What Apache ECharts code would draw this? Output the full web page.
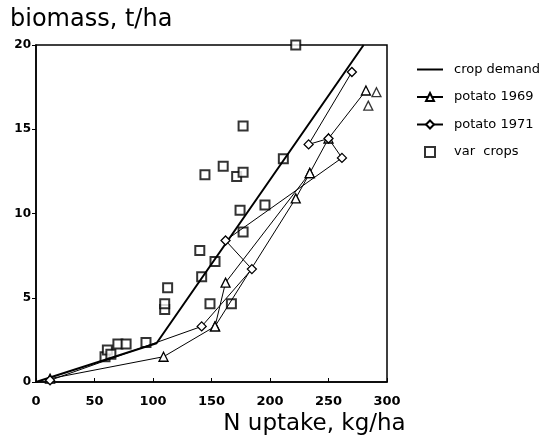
<!DOCTYPE html>
<html>
<head>
<meta charset="utf-8">
<script src="https://cdn.jsdelivr.net/npm/echarts@6/dist/echarts.min.js"></script>
<style>
  html, body { margin: 0; padding: 0; background: #fff; }
  #chart { width: 550px; height: 440px; }
</style>
</head>
<body>
<div id="chart"></div>
<script>
  // crop demand curve (N uptake, biomass)
  const cropDemand = [[0, 0], [103, 2.3], [280, 20]]
  // potato 1969 (triangles), main path + side path + loose points
  const potato1969 = [[12, 0.2], [109, 1.5], [153, 3.3], [162, 5.9], [234, 12.4], [250, 14.45], [282, 17.3]]
  const potato1969b = [[153, 3.3], [222, 10.9], [234, 12.4]]
  const potato1969c = [[291, 17.2], [284, 16.4]]
  // potato 1971 (diamonds)
  const potato1971 = [[12, 0.1], [141.6, 3.3], [184.5, 6.7], [162, 8.4], [261.5, 13.3], [250, 14.45], [233, 14.1], [270, 18.4]]
  // various crops (squares)
  const varCrops = [
    [59, 1.5], [61, 1.9], [64, 1.65], [70, 2.25], [77, 2.25], [94, 2.35],
    [110, 4.3], [110, 4.65], [112.5, 5.6], [140, 7.8], [141.6, 6.25], [144.4, 12.3],
    [148.7, 4.65], [153, 7.15], [160, 12.8], [167, 4.65], [171.5, 12.2], [174.4, 10.2],
    [177, 12.45], [177, 15.2], [177, 8.9], [195.7, 10.5], [211.4, 13.25], [222, 20]
  ]
  const xTicks = [0, 50, 100, 150, 200, 250, 300]
  const yTicks = [0, 5, 10, 15, 20]

  const font = 'DejaVu Sans, Arial, sans-serif'
  const triangle = 'triangle'
  const diamond = 'diamond'
  const square = 'path://M0,0 L10,0 L10,10 L0,10 Z'

  let mycharts = echarts.init(document.getElementById('chart'))
  mycharts.setOption({
    animation: false,
    title: {
      text: 'biomass, t/ha',
      left: 5,
      top: 3,
      textStyle: { fontFamily: font, fontSize: 24, fontWeight: 'normal', color: '#000' }
    },
    legend: {
      orient: 'vertical',
      left: 411,
      top: 58,
      itemWidth: 26,
      itemHeight: 10,
      itemGap: 14.5,
      data: [
        { name: 'crop demand', itemStyle: { opacity: 0 } },
        'potato 1969',
        'potato 1971',
        'var  crops'
      ],
      textStyle: { fontFamily: font, fontSize: 13, color: '#000', padding: [0, 0, 0, 6] }
    },
    grid: {
      left: 36,
      right: 163,
      top: 45,
      bottom: 58,
      containLabel: false,
      outerBoundsMode: 'none',
      show: true,
      borderColor: '#000',
      borderWidth: 1.5
    },
    xAxis: {
      type: 'value',
      min: xTicks[0],
      max: xTicks[xTicks.length - 1],
      interval: 50,
      name: 'N uptake, kg/ha',
      nameLocation: 'middle',
      nameGap: 28,
      nameTextStyle: { fontFamily: font, fontSize: 23, color: '#000', padding: [0, 0, 0, 206] },
      axisLine: { lineStyle: { color: '#000', width: 1.5 } },
      axisTick: { inside: true, length: 4, lineStyle: { color: '#000' } },
      axisLabel: { fontFamily: font, fontSize: 13, fontWeight: 'bold', color: '#000', margin: 13 },
      splitLine: { show: false }
    },
    yAxis: {
      type: 'value',
      min: yTicks[0],
      max: yTicks[yTicks.length - 1],
      interval: 5,
      axisLine: { show: true, lineStyle: { color: '#000', width: 1.5 } },
      axisTick: { show: true, length: 4, lineStyle: { color: '#000' } },
      axisLabel: { fontFamily: font, fontSize: 12, fontWeight: 'bold', color: '#000', margin: 5 },
      splitLine: { show: false }
    },
    series: [
      {
        name: 'crop demand',
        type: 'line',
        data: cropDemand,
        symbol: 'none',
        lineStyle: { color: '#000', width: 2 },
        itemStyle: { color: '#000' }
      },
      {
        name: 'potato 1969',
        type: 'line',
        data: potato1969,
        symbol: triangle,
        symbolSize: 9,
        lineStyle: { color: '#000', width: 1 },
        itemStyle: { color: '#fff', borderColor: '#000', borderWidth: 1.3 }
      },
      {
        name: 'potato 1969',
        type: 'line',
        data: potato1969b,
        symbol: triangle,
        symbolSize: 9,
        lineStyle: { color: '#000', width: 1 },
        itemStyle: { color: '#fff', borderColor: '#000', borderWidth: 1.3 }
      },
      {
        name: 'potato 1969',
        type: 'scatter',
        data: potato1969c,
        symbol: triangle,
        symbolSize: 9,
        itemStyle: { color: '#fff', borderColor: '#000', borderWidth: 1.3 }
      },
      {
        name: 'potato 1971',
        type: 'line',
        data: potato1971,
        symbol: diamond,
        symbolSize: 9,
        lineStyle: { color: '#000', width: 1 },
        itemStyle: { color: '#fff', borderColor: '#000', borderWidth: 1.3 }
      },
      {
        name: 'var  crops',
        type: 'scatter',
        data: varCrops,
        symbol: square,
        symbolSize: 9,
        itemStyle: { color: '#fff', borderColor: '#000', borderWidth: 2 }
      }
    ]
  })
</script>
</body>
</html>
